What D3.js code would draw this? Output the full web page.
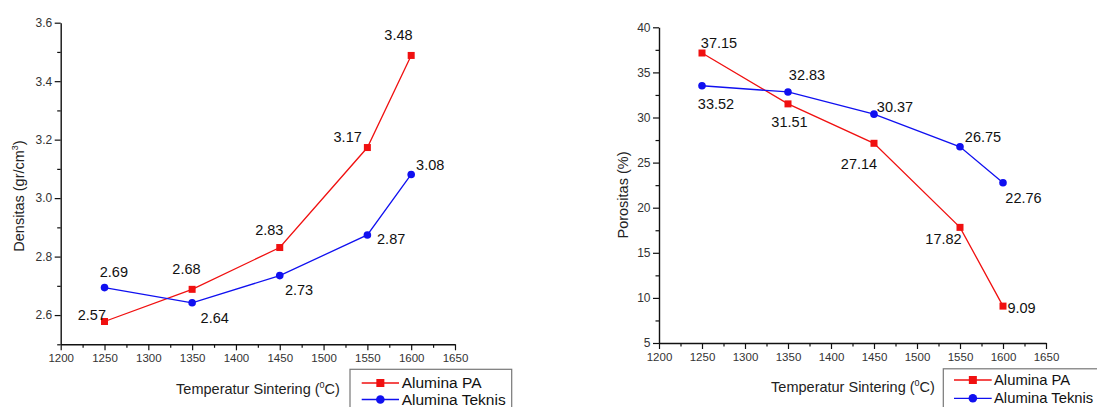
<!DOCTYPE html>
<html>
<head>
<meta charset="utf-8">
<script src="https://cdn.jsdelivr.net/npm/d3@7"></script>
<style>
  html, body { margin: 0; padding: 0; background: #fff; }
  svg { display: block; font-family: "Liberation Sans", Arial, sans-serif; }
</style>
</head>
<body>
<svg id="chart" width="1097" height="407"></svg>
<script>
// ---------- data ----------
const temps = [1250, 1350, 1450, 1550, 1600];
const seriesNames = ["Alumina PA", "Alumina Teknis"];

const densitasPA = [2.578, 2.688, 2.831, 3.173, 3.488];
const densitasPALabels = ["2.57", "2.68", "2.83", "3.17", "3.48"];
const densitasTeknis = [2.694, 2.642, 2.735, 2.874, 3.081];
const densitasTeknisLabels = ["2.69", "2.64", "2.73", "2.87", "3.08"];

const porositasPA = [37.15, 31.51, 27.14, 17.82, 9.09];
const porositasPALabels = ["37.15", "31.51", "27.14", "17.82", "9.09"];
const porositasTeknis = [33.52, 32.83, 30.37, 26.75, 22.76];
const porositasTeknisLabels = ["33.52", "32.83", "30.37", "26.75", "22.76"];

const xTicks = [1200, 1250, 1300, 1350, 1400, 1450, 1500, 1550, 1600, 1650];
const xMinorTicks = [1225, 1275, 1325, 1375, 1425, 1475, 1525, 1575, 1625];
const densTicks = [2.6, 2.8, 3.0, 3.2, 3.4, 3.6];
const densMinorTicks = [2.5, 2.7, 2.9, 3.1, 3.3, 3.5];
const poroTicks = [5, 10, 15, 20, 25, 30, 35, 40];
const poroMinorTicks = [7.5, 12.5, 17.5, 22.5, 27.5, 32.5, 37.5];

// ---------- layout (positions / styles) ----------
const RED = "#f01010", BLUE = "#1010f0";
const svg = d3.select("#chart");

// label offsets (dx, dy of label centre relative to point)
const offDensPA = [[-12.6, -7], [-5.7, -20.7], [-10.5, -18], [-19.7, -10.6], [-12.7, -20.7]];
const offDensTek = [[9.4, -15.6], [22.6, 15.6], [19.3, 14.7], [23.8, 3.6], [19, -9.3]];
const offPoroPA = [[17, -10], [1.5, 18], [-15, 21], [-16.5, 12], [18.5, 2]];
const offPoroTek = [[14, 18], [19, -17.5], [21, -7], [23, -10], [20.5, 15]];

function drawPanel(cfg) {
  const x = d3.scaleLinear().domain([1200, 1650]).range([cfg.x0, cfg.x1]);
  const y = d3.scaleLinear().domain(cfg.yDomain).range([cfg.yBottom, cfg.yTop]);
  const g = svg.append("g");

  // x axis
  const gx = g.append("g").attr("transform", `translate(0,${cfg.yBottom})`);
  gx.call(d3.axisBottom(x).tickValues(xTicks).tickSize(6).tickSizeOuter(0).tickFormat(d3.format("d")));
  gx.append("g").call(d3.axisBottom(x).tickValues(xMinorTicks).tickSize(3.5).tickSizeOuter(0).tickFormat(""))
    .select(".domain").remove();
  // y axis
  const gy = g.append("g").attr("transform", `translate(${cfg.x0},0)`);
  gy.call(d3.axisLeft(y).tickValues(cfg.yTicks).tickSize(6).tickSizeOuter(0).tickFormat(cfg.yFormat));
  gy.append("g").call(d3.axisLeft(y).tickValues(cfg.yMinor).tickSize(3.5).tickSizeOuter(0).tickFormat(""))
    .select(".domain").remove();

  g.selectAll(".domain").attr("stroke", "#111").attr("stroke-width", 1.4);
  g.selectAll(".tick line").attr("stroke", "#111").attr("stroke-width", 1.2);
  gx.selectAll(".tick text").attr("font-size", 11.5).attr("fill", "#333")
    .attr("font-family", "Liberation Sans, Arial, sans-serif").attr("dy", "0.71em").attr("y", 9.5);
  gy.selectAll(".tick text").attr("font-size", 12).attr("fill", "#333")
    .attr("font-family", "Liberation Sans, Arial, sans-serif").attr("x", -8.5);

  // axis titles
  const xt = g.append("text").attr("x", cfg.xTitleX).attr("y", cfg.xTitleY)
    .attr("text-anchor", "middle").attr("font-size", 14.5).attr("fill", "#222");
  xt.append("tspan").text("Temperatur Sintering (");
  xt.append("tspan").text("0").attr("font-size", 9).attr("dy", -6);
  xt.append("tspan").text("C)").attr("dy", 6);

  const yt = g.append("text")
    .attr("transform", `translate(${cfg.yTitleX},${cfg.yTitleY}) rotate(-90)`)
    .attr("text-anchor", "middle").attr("font-size", 14.5).attr("fill", "#222");
  cfg.yTitle(yt);

  // series
  const line = d3.line().x((d, i) => x(temps[i])).y(d => y(d));
  cfg.series.forEach(s => {
    g.append("path").datum(s.values).attr("d", line)
      .attr("fill", "none").attr("stroke", s.color).attr("stroke-width", 1.3);
    if (s.marker === "square") {
      g.selectAll(null).data(s.values).enter().append("rect")
        .attr("x", (d, i) => x(temps[i]) - 3.5).attr("y", d => y(d) - 3.5)
        .attr("width", 7).attr("height", 7).attr("fill", s.color);
    } else {
      g.selectAll(null).data(s.values).enter().append("circle")
        .attr("cx", (d, i) => x(temps[i])).attr("cy", d => y(d)).attr("r", 3.8).attr("fill", s.color);
    }
    g.selectAll(null).data(s.values).enter().append("text")
      .attr("x", (d, i) => x(temps[i]) + s.offsets[i][0])
      .attr("y", (d, i) => y(d) + s.offsets[i][1])
      .attr("dy", "0.35em").attr("text-anchor", "middle")
      .attr("font-size", 14.5).attr("fill", "#111")
      .text((d, i) => s.labels[i]);
  });

  // legend
  const L = cfg.legend;
  g.append("rect").attr("x", L.x).attr("y", L.y).attr("width", L.w).attr("height", 60)
    .attr("fill", "#fff").attr("stroke", "#777").attr("stroke-width", 1.2);
  cfg.series.forEach((s, i) => {
    const ry = L.rows[i];
    g.append("line").attr("x1", L.lx0).attr("x2", L.lx1).attr("y1", ry).attr("y2", ry)
      .attr("stroke", s.color).attr("stroke-width", 1.3);
    const mx = (L.lx0 + L.lx1) / 2;
    if (s.marker === "square") {
      g.append("rect").attr("x", mx - 4).attr("y", ry - 4).attr("width", 8).attr("height", 8).attr("fill", s.color);
    } else {
      g.append("circle").attr("cx", mx).attr("cy", ry).attr("r", 4.3).attr("fill", s.color);
    }
    g.append("text").attr("x", L.tx).attr("y", ry).attr("dy", "0.35em")
      .attr("font-size", L.fs).attr("fill", "#111").text(seriesNames[i]);
  });
}

drawPanel({
  x0: 60.7, x1: 455, yTop: 22.7, yBottom: 344.3, yDomain: [2.5, 3.6],
  yTicks: densTicks, yMinor: densMinorTicks, yFormat: d3.format(".1f"),
  xTitleX: 258, xTitleY: 394,
  yTitleX: 24, yTitleY: 196,
  yTitle: t => {
    t.append("tspan").text("Densitas (gr/cm");
    t.append("tspan").text("3").attr("font-size", 9).attr("dy", -6);
    t.append("tspan").text(")").attr("dy", 6);
  },
  series: [
    { values: densitasPA, labels: densitasPALabels, color: RED, marker: "square", offsets: offDensPA },
    { values: densitasTeknis, labels: densitasTeknisLabels, color: BLUE, marker: "circle", offsets: offDensTek }
  ],
  legend: { x: 350, y: 369.3, w: 161.7, rows: [383, 399.5], lx0: 361.7, lx1: 399, tx: 401.7, fs: 15.5 }
});

drawPanel({
  x0: 659, x1: 1046, yTop: 27.3, yBottom: 343, yDomain: [5, 40],
  yTicks: poroTicks, yMinor: poroMinorTicks, yFormat: d3.format("d"),
  xTitleX: 853, xTitleY: 392,
  yTitleX: 628, yTitleY: 195,
  yTitle: t => { t.text("Porositas (%)"); },
  series: [
    { values: porositasPA, labels: porositasPALabels, color: RED, marker: "square", offsets: offPoroPA },
    { values: porositasTeknis, labels: porositasTeknisLabels, color: BLUE, marker: "circle", offsets: offPoroTek }
  ],
  legend: { x: 943.3, y: 368.8, w: 170, rows: [380, 398.3], lx0: 954, lx1: 991.7, tx: 994, fs: 14.8 }
});
</script>
</body>
</html>
